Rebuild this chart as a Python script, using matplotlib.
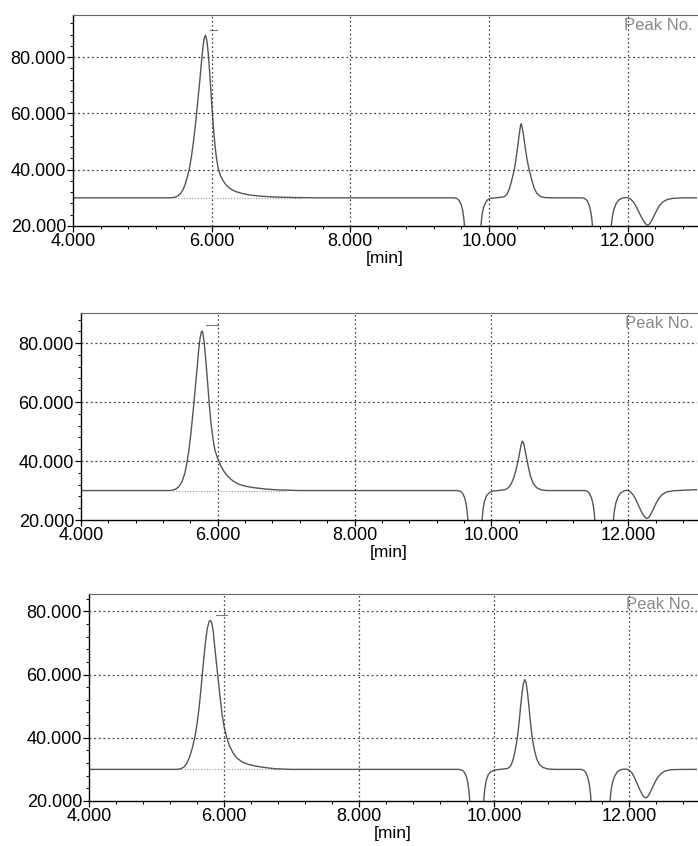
#--------------------------------------------------------
#   chromatogram, three runs stacked
#--------------------------------------------------------
import numpy as np
import matplotlib.pyplot as plt
from matplotlib.ticker import MultipleLocator, FormatStrFormatter

plt.rcParams['font.family'] = ['Liberation Sans', 'DejaVu Sans']
#----- trace points (time [min], signal)
run1 = [(4.0, 30.0), (5.40, 30.0), (5.45, 30.1), (5.50, 30.5), (5.55, 31.5), (5.59, 33.0),
        (5.62, 35.0), (5.65, 37.5), (5.68, 40.5), (5.71, 45.0), (5.74, 50.5), (5.77, 57.0),
        (5.80, 64.5), (5.83, 72.0), (5.85, 77.5), (5.87, 82.5), (5.89, 86.5), (5.91, 87.8),
        (5.93, 86.0), (5.95, 81.5), (5.97, 75.0), (5.99, 67.5), (6.01, 60.0), (6.03, 53.5),
        (6.05, 48.0), (6.07, 44.0), (6.09, 41.0), (6.12, 38.3), (6.16, 36.2), (6.21, 34.5),
        (6.27, 33.2), (6.35, 32.2), (6.45, 31.5), (6.55, 31.0), (6.70, 30.6), (6.90, 30.3),
        (7.20, 30.1), (7.50, 30.0),
        (9.50, 30.0), (9.54, 29.7), (9.57, 29.0), (9.60, 27.5), (9.62, 25.5), (9.635, 23.0),
        (9.645, 20.5), (9.655, 15.0), (9.66, 10.0), (9.87, 10.0), (9.875, 15.0), (9.885, 20.5),
        (9.90, 24.0), (9.92, 26.5), (9.95, 28.3), (9.98, 29.3), (10.02, 29.8), (10.10, 30.0),
        (10.22, 30.4), (10.26, 31.3), (10.29, 33.0), (10.32, 35.5), (10.35, 38.5), (10.37, 40.8),
        (10.39, 44.0), (10.41, 47.5), (10.43, 51.5), (10.45, 55.0), (10.46, 56.3), (10.47, 56.0),
        (10.49, 53.5), (10.51, 50.0), (10.53, 46.5), (10.55, 43.5), (10.57, 41.0), (10.59, 39.0),
        (10.62, 36.0), (10.65, 33.5), (10.69, 31.6), (10.74, 30.5), (10.80, 30.1), (10.90, 30.0),
        (11.35, 30.0), (11.39, 29.6), (11.42, 28.8), (11.45, 27.0), (11.47, 24.8), (11.485, 22.0),
        (11.495, 19.0), (11.50, 10.0), (11.75, 10.0), (11.755, 15.0), (11.765, 20.5), (11.78, 23.5),
        (11.80, 25.8), (11.83, 27.8), (11.87, 29.2), (11.92, 29.9), (11.97, 30.1), (12.00, 30.0),
        (12.04, 29.6), (12.08, 28.6), (12.12, 27.0), (12.16, 25.0), (12.20, 23.0), (12.24, 21.3),
        (12.27, 20.5), (12.29, 20.3), (12.31, 20.6), (12.34, 21.7), (12.38, 23.6), (12.42, 25.6),
        (12.46, 27.3), (12.51, 28.6), (12.57, 29.4), (12.65, 29.8), (12.80, 30.0), (13.00, 30.0)]
run2 = [(4.0, 30.0), (5.30, 30.0), (5.35, 30.2), (5.40, 30.7), (5.44, 31.6), (5.48, 33.2),
        (5.52, 36.0), (5.55, 39.5), (5.58, 44.0), (5.61, 50.0), (5.64, 57.0), (5.67, 64.5),
        (5.70, 72.0), (5.72, 77.5), (5.74, 81.5), (5.76, 83.8), (5.77, 84.1), (5.78, 83.6),
        (5.80, 80.5), (5.82, 75.5), (5.84, 70.0), (5.86, 64.0), (5.88, 58.0), (5.90, 53.0),
        (5.93, 47.5), (5.96, 43.5), (6.00, 40.8), (6.04, 38.6), (6.09, 36.5), (6.15, 34.7),
        (6.22, 33.3), (6.30, 32.2), (6.40, 31.5), (6.52, 31.0), (6.70, 30.5), (6.90, 30.2),
        (7.20, 30.0),
        (9.50, 30.0), (9.55, 29.7), (9.58, 29.0), (9.61, 27.5), (9.63, 25.5), (9.645, 23.0),
        (9.655, 20.5), (9.665, 15.0), (9.67, 10.0), (9.85, 10.0), (9.855, 15.0), (9.865, 20.5),
        (9.88, 24.0), (9.90, 26.5), (9.93, 28.3), (9.97, 29.3), (10.02, 29.8), (10.10, 30.0),
        (10.20, 30.3), (10.25, 31.0), (10.29, 32.3), (10.33, 34.5), (10.36, 37.0), (10.39, 40.0),
        (10.41, 42.5), (10.43, 45.0), (10.45, 46.8), (10.47, 46.2), (10.49, 44.0), (10.51, 41.5),
        (10.54, 38.0), (10.57, 35.0), (10.61, 32.5), (10.66, 31.0), (10.72, 30.3), (10.80, 30.0),
        (11.37, 30.0), (11.41, 29.6), (11.44, 28.8), (11.47, 27.0), (11.49, 24.8), (11.505, 22.0),
        (11.515, 19.0), (11.52, 10.0), (11.77, 10.0), (11.775, 15.0), (11.785, 20.5), (11.80, 23.5),
        (11.82, 25.8), (11.85, 27.8), (11.89, 29.2), (11.94, 29.9), (11.98, 30.1), (12.00, 30.0),
        (12.03, 29.6), (12.07, 28.6), (12.11, 27.0), (12.15, 25.0), (12.19, 23.0), (12.23, 21.4),
        (12.26, 20.7), (12.28, 20.6), (12.30, 20.9), (12.33, 22.0), (12.37, 23.8), (12.41, 25.8),
        (12.45, 27.4), (12.50, 28.7), (12.56, 29.5), (12.65, 29.9), (12.80, 30.1), (13.00, 30.3)]
run3 = [(4.0, 30.0), (5.30, 30.0), (5.36, 30.2), (5.41, 30.8), (5.45, 32.0), (5.49, 34.0),
        (5.53, 36.8), (5.57, 40.5), (5.60, 44.5), (5.63, 49.5), (5.66, 56.0), (5.69, 63.0),
        (5.72, 69.5), (5.75, 74.5), (5.78, 76.9), (5.80, 77.1), (5.82, 76.2), (5.84, 73.5),
        (5.86, 69.0), (5.88, 65.0), (5.91, 59.0), (5.94, 53.0), (5.97, 47.5), (6.00, 43.5),
        (6.04, 40.0), (6.08, 37.5), (6.13, 35.3), (6.19, 33.6), (6.27, 32.3), (6.37, 31.5),
        (6.48, 31.0), (6.60, 30.6), (6.75, 30.2), (7.00, 30.0),
        (9.48, 30.0), (9.53, 29.7), (9.56, 29.0), (9.59, 27.5), (9.61, 25.5), (9.625, 23.0),
        (9.635, 20.5), (9.645, 15.0), (9.65, 10.0), (9.83, 10.0), (9.835, 15.0), (9.845, 20.5),
        (9.86, 24.0), (9.88, 26.5), (9.91, 28.3), (9.95, 29.3), (10.00, 29.8), (10.08, 30.0),
        (10.20, 30.3), (10.24, 31.0), (10.27, 32.5), (10.30, 35.0), (10.33, 38.5), (10.35, 41.5),
        (10.37, 45.5), (10.39, 50.0), (10.41, 54.0), (10.43, 57.0), (10.45, 58.4), (10.47, 57.5),
        (10.49, 54.5), (10.51, 50.5), (10.53, 46.0), (10.55, 42.0), (10.57, 38.8), (10.60, 35.5),
        (10.63, 33.2), (10.67, 31.5), (10.72, 30.6), (10.80, 30.1), (10.90, 30.0),
        (11.29, 30.0), (11.33, 29.6), (11.36, 28.8), (11.39, 27.0), (11.41, 24.8), (11.425, 22.0),
        (11.435, 19.0), (11.44, 10.0), (11.70, 10.0), (11.705, 15.0), (11.715, 20.5), (11.73, 23.5),
        (11.75, 25.8), (11.78, 27.8), (11.82, 29.2), (11.87, 29.9), (11.93, 30.1), (11.97, 30.0),
        (12.00, 29.7), (12.04, 28.8), (12.08, 27.2), (12.12, 25.2), (12.16, 23.3), (12.20, 21.7),
        (12.23, 21.1), (12.25, 21.0), (12.27, 21.3), (12.30, 22.4), (12.34, 24.2), (12.38, 26.0),
        (12.42, 27.5), (12.47, 28.7), (12.53, 29.5), (12.62, 29.9), (12.80, 30.0), (13.00, 30.0)]
runs = [run1, run2, run3]
y_top = [95.0, 90.2, 85.5]
# integration baseline under first peak (start, end)
base_start = [5.47, 5.35, 5.25]
base_end = [7.30, 7.00, 7.30]
# peak label dash (x0, x1, y)
mark_x0 = [5.98, 5.83, 5.88]
mark_x1 = [6.08, 6.01, 6.04]
mark_y = [89.5, 86.1, 79.0]
x_ticks = [4, 6, 8, 10, 12]
y_ticks = [20, 40, 60, 80]
#----- axes boxes in figure fraction [left, bottom, width, height]
boxes = [[0.1046, 0.7329, 0.894, 0.2494],
         [0.1160, 0.3853, 0.882, 0.2447],
         [0.1275, 0.0532, 0.871, 0.2447]]

fig = plt.figure(figsize=(6.98, 8.46), dpi=100)
for i in range(3):
    ax = fig.add_axes(boxes[i])
    t = np.array([p[0] for p in runs[i]])
    s = np.array([p[1] for p in runs[i]])
    ax.plot([base_start[i], base_end[i]], [30, 30], color='#999999', lw=0.8, ls=(0, (1, 1.5)))
    ax.plot(t, s, color='#555555', lw=1.0)
    ax.plot([mark_x0[i], mark_x1[i]], [mark_y[i], mark_y[i]], color='#777777', lw=0.8)
    ax.set_xlim(4, 13)
    ax.set_ylim(20, y_top[i])
    ax.set_xticks(x_ticks)
    ax.set_yticks(y_ticks)
    ax.xaxis.set_minor_locator(MultipleLocator(0.4))
    ax.yaxis.set_minor_locator(MultipleLocator(4))
    ax.xaxis.set_major_formatter(FormatStrFormatter('%.3f'))
    ax.yaxis.set_major_formatter(FormatStrFormatter('%.3f'))
    ax.tick_params(which='major', labelsize=13, length=4, width=0.9, pad=1)
    ax.tick_params(which='minor', length=2.5, width=0.7)
    for v in [6, 8, 10, 12]:
        ax.axvline(v, color='#333333', lw=0.9, ls=(0, (1.2, 2.2)))
    for v in [40, 60, 80]:
        ax.axhline(v, color='#444444', lw=0.9, ls=(0, (1.5, 2.2)))
    ax.spines['right'].set_visible(False)
    ax.spines['top'].set_color('#666666')
    ax.spines['left'].set_linewidth(1.0)
    ax.spines['bottom'].set_linewidth(1.0)
    ax.set_xlabel('[min]', fontsize=12.5, labelpad=1)
    ax.text(11.95, 0.985, 'Peak No.', transform=ax.get_xaxis_transform(),
            ha='left', va='top', fontsize=12, color='#888888', clip_on=False)
#
plt.savefig('out.png')
